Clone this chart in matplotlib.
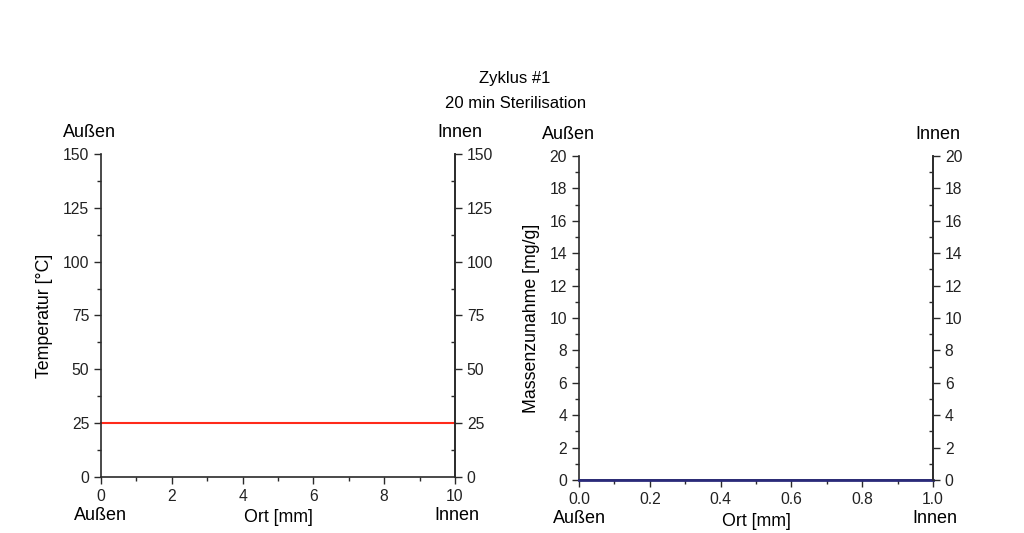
import matplotlib.pyplot as plt
from matplotlib.ticker import MultipleLocator

plt.rcParams['font.family'] = ['Liberation Sans', 'DejaVu Sans']
plt.rcParams['font.size'] = 11

ort_temp = [0, 10]
temperatur = [25, 25]
ort_mass = [0.0, 1.0]
massenzunahme = [0, 0]

fig = plt.figure(figsize=(10.24, 5.33), dpi=100)
fig.patch.set_facecolor('white')

def setup(ax, xlim, ylim, xmaj, ymaj):
    ax.set_xlim(*xlim)
    ax.set_ylim(*ylim)
    ax.spines['top'].set_visible(False)
    for s in ax.spines.values():
        s.set_linewidth(1.2)
        s.set_color('#2a2a2a')
    ax.xaxis.set_major_locator(MultipleLocator(xmaj))
    ax.xaxis.set_minor_locator(MultipleLocator(xmaj / 2))
    ax.yaxis.set_major_locator(MultipleLocator(ymaj))
    ax.yaxis.set_minor_locator(MultipleLocator(ymaj / 2))
    ax.tick_params(which='major', direction='out', length=5, width=1, colors='#2a2a2a',
                   labelcolor='#222222', labelsize=11.3)
    ax.tick_params(which='minor', direction='out', length=3, width=1, colors='#2a2a2a')
    tw = ax.twinx()
    tw.set_ylim(*ylim)
    for k in ['top', 'left', 'bottom']:
        tw.spines[k].set_visible(False)
    tw.spines['right'].set_linewidth(1.2)
    tw.spines['right'].set_color('#2a2a2a')
    tw.yaxis.set_major_locator(MultipleLocator(ymaj))
    tw.yaxis.set_minor_locator(MultipleLocator(ymaj / 2))
    tw.tick_params(which='major', direction='out', length=5, width=1, colors='#2a2a2a',
                   labelcolor='#222222', labelsize=11.3)
    tw.tick_params(which='minor', direction='in', length=3, width=1, colors='#2a2a2a')
    return tw

# left panel: temperature
ax1 = fig.add_axes([0.0986, 0.1051, 0.3457, 0.606])
setup(ax1, (0, 10), (0, 150), 2, 25)
ax1.plot(ort_temp, temperatur, color='#ff2a1a', lw=1.5, clip_on=False)
ax1.set_xlabel('Ort [mm]', fontsize=12.8, va='center')
ax1.xaxis.set_label_coords(0.5, -41 / 323)
ax1.set_ylabel('Temperatur [°C]', fontsize=12.8, va='center')
ax1.yaxis.set_label_coords(-56 / 354, 0.5)

# right panel: mass gain
ax2 = fig.add_axes([0.5654, 0.0994, 0.3457, 0.608])
setup(ax2, (0, 1), (0, 20), 0.2, 2)
ax2.xaxis.set_major_formatter(lambda v, p: f'{v:.1f}')
ax2.plot(ort_mass, massenzunahme, color='#2a2a7a', lw=2, clip_on=False, zorder=5)
ax2.set_xlabel('Ort [mm]', fontsize=12.8, va='center')
ax2.xaxis.set_label_coords(0.5, -41 / 324)
ax2.set_ylabel('Massenzunahme [mg/g]', fontsize=12.8, va='center')
ax2.yaxis.set_label_coords(-47 / 354, 0.5)

for ax, dy in ((ax1, -39 / 323), (ax2, -38 / 324)):
    ax.text(-11 / 354, 1 + 21 / 323, 'Außen', transform=ax.transAxes, ha='center', va='center', fontsize=13)
    ax.text(1 + 5 / 354, 1 + 21 / 323, 'Innen', transform=ax.transAxes, ha='center', va='center', fontsize=13)
    ax.text(0.0, dy, 'Außen', transform=ax.transAxes, ha='center', va='center', fontsize=13)
    ax.text(1 + 2 / 354, dy, 'Innen', transform=ax.transAxes, ha='center', va='center', fontsize=13)

fig.text(0.503, 1 - 78 / 533, 'Zyklus #1', ha='center', va='center', fontsize=12)
fig.text(0.503, 1 - 104 / 533, '20 min Sterilisation', ha='center', va='center', fontsize=12)

fig.savefig('out.png', dpi=100, facecolor='white')
